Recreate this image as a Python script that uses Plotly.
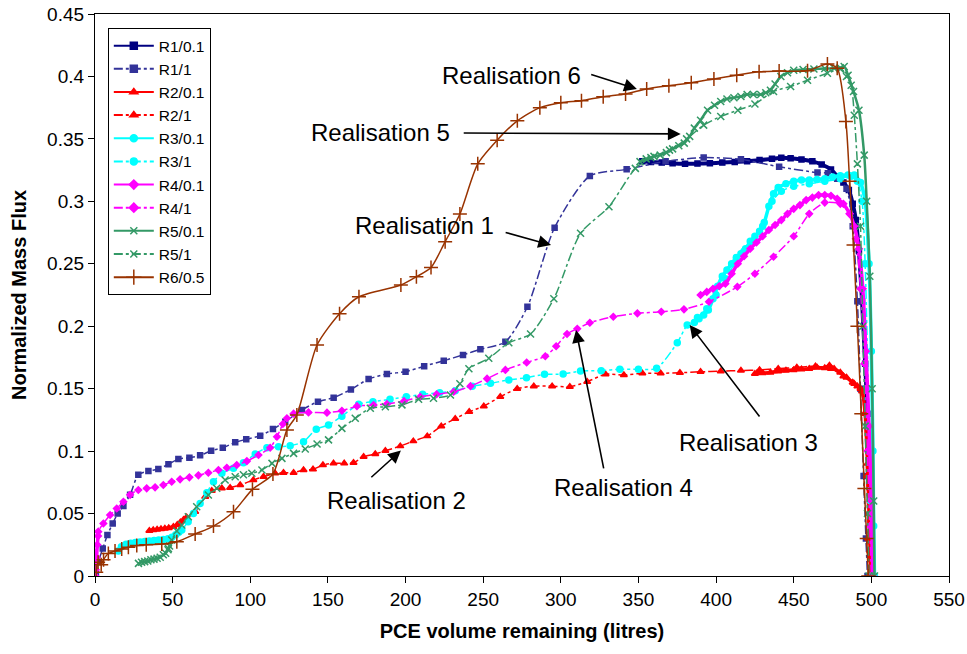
import plotly.graph_objects as go

# ---------------- data ----------------
r1_01_x = [352.5, 358, 365, 372, 380, 388, 396, 404, 412, 420, 428, 436, 442, 448, 455, 462, 468, 474, 478, 482, 485.5, 488, 490, 492, 494, 496, 497.5, 499, 500, 500.5]
r1_01_y = [0.332, 0.3315, 0.331, 0.3305, 0.330, 0.3302, 0.3305, 0.331, 0.3315, 0.332, 0.333, 0.334, 0.3348, 0.3345, 0.3335, 0.332, 0.3295, 0.3255, 0.32, 0.315, 0.309, 0.298, 0.285, 0.26, 0.22, 0.17, 0.13, 0.09, 0.04, 0.0]

r1_1_x = [0, 0.6, 2.1, 5, 8, 11.4, 14.6, 18.3, 22.6, 27.9, 34.4, 40.8, 47.3, 53.7, 60.8, 67.7, 74.8, 82.3, 90.3, 97.4, 106.4, 114.6, 122.5, 133.3, 143.6, 153.7, 164.8, 176.2, 188, 200, 212, 224.6, 237, 248.2, 264.3, 278.5, 296, 318.7, 342.4, 367.5, 392, 416, 440.6, 465.3, 472, 478, 484, 488, 491, 493, 495, 496.5, 497.5]
r1_1_y = [0, 0.002, 0.011, 0.022, 0.0328, 0.042, 0.050, 0.056, 0.065, 0.081, 0.084, 0.0857, 0.0894, 0.0937, 0.0947, 0.0966, 0.1003, 0.1027, 0.107, 0.1095, 0.1123, 0.1177, 0.1236, 0.133, 0.1396, 0.1428, 0.1494, 0.1577, 0.1617, 0.1636, 0.168, 0.1724, 0.177, 0.1815, 0.1876, 0.2156, 0.2789, 0.3203, 0.3256, 0.332, 0.335, 0.3336, 0.3277, 0.323, 0.3225, 0.318, 0.31, 0.28, 0.22, 0.15, 0.08, 0.03, 0]

r2_01_x = [35, 37.5, 40, 42.5, 45, 47.5, 50.5, 53, 55, 57, 59, None,
           425, 430, 435, 440, 445, 450, 455, 460, 465, 470, 473, 476, 480, 484, 488, 491, 494, 496, 497.5, 498.5, 499.2, 499.8]
r2_01_y = [0.0363, 0.0368, 0.0372, 0.0376, 0.038, 0.0385, 0.0395, 0.041, 0.043, 0.045, 0.047, None,
           0.162, 0.1625, 0.163, 0.164, 0.1645, 0.165, 0.1655, 0.166, 0.167, 0.1665, 0.1685, 0.166, 0.163, 0.159, 0.155, 0.152, 0.148, 0.13, 0.09, 0.05, 0.02, 0]

r2_1_x = [59.1, 64.5, 71, 75.2, 81.7, 87, 93.5, 102, 108.5, 116, 121.4, 127.9, 134.3, 140.4, 146.8, 153.6, 160.5, 166.5, 173, 180.5, 187, 196.6, 205, 214, 223, 232, 241, 250.4, 261, 271.9, 282.6, 294.4, 305.8, 317, 328.8, 340.6, 352.5, 364.3, 376.7, 390, 403, 416, 428, 440, 452, 464, 474, 482, 489, 493, 495.5, 497, 498, 498.6]
r2_1_y = [0.046, 0.0515, 0.0635, 0.0683, 0.0702, 0.0707, 0.0729, 0.0769, 0.0795, 0.0822, 0.0827, 0.0827, 0.0849, 0.0854, 0.0889, 0.0902, 0.0902, 0.0907, 0.0955, 0.0977, 0.1003, 0.104, 0.108, 0.112, 0.12, 0.126, 0.1315, 0.136, 0.1435, 0.150, 0.152, 0.152, 0.1516, 0.1556, 0.1615, 0.161, 0.1623, 0.1623, 0.1628, 0.1635, 0.164, 0.1645, 0.165, 0.166, 0.167, 0.168, 0.166, 0.16, 0.154, 0.15, 0.13, 0.08, 0.03, 0]

r3_01_x = [15, 17, 20, 23, 26, 29, 32, 35, 38, 41, 44, 47, 49.5, 52, 54, None,
           386, 389, 392, 395, 398, 401, 404, 407, 410, 413, 416, 419, 422, 425, 428, 431, 434, 437, 440, 445, 450, 455, 460, 465, 470, 475, 480, 485, 489, 493, 496, 498.5, 500, 501, 501.5, 502]
r3_01_y = [0.020, 0.0235, 0.0255, 0.0262, 0.0268, 0.0272, 0.0276, 0.028, 0.0284, 0.0288, 0.0292, 0.0298, 0.031, 0.033, 0.035, None,
           0.203, 0.206, 0.209, 0.213, 0.222, 0.232, 0.24, 0.245, 0.25, 0.255, 0.258, 0.262, 0.268, 0.272, 0.276, 0.283, 0.296, 0.306, 0.311, 0.314, 0.316, 0.317, 0.317, 0.3175, 0.318, 0.3195, 0.3205, 0.321, 0.321, 0.315, 0.30, 0.25, 0.18, 0.10, 0.04, 0]

r3_1_x = [55.9, 60, 63.4, 67.7, 72, 76.3, 81.7, 89.2, 95.6, 103.2, 110.7, 118.2, 125.7, 134.3, 142.5, 150.4, 159, 169.8, 179, 190, 200.5, 211, 222, 232, 243, 254.7, 266.5, 277.9, 289.5, 301.5, 312.7, 326, 338, 350, 361.7, 375, 381.4, 388, 394, 400, 406, 412, 418, 424, 430, 436, 442, 450, 460, 470, 480, 487, 491, 494, 496, 498, 499.5, 500.5]
r3_1_y = [0.0368, 0.0435, 0.050, 0.058, 0.0667, 0.0755, 0.0822, 0.0862, 0.0907, 0.0977, 0.1027, 0.1035, 0.1043, 0.1075, 0.1175, 0.121, 0.128, 0.1375, 0.1396, 0.1415, 0.1435, 0.1455, 0.1468, 0.1484, 0.152, 0.1543, 0.157, 0.1588, 0.1615, 0.1617, 0.1641, 0.1644, 0.1655, 0.1655, 0.1663, 0.1868, 0.201, 0.207, 0.214, 0.225, 0.238, 0.25, 0.26, 0.268, 0.28, 0.30, 0.308, 0.312, 0.314, 0.316, 0.318, 0.32, 0.316, 0.30, 0.25, 0.15, 0.06, 0]

r4_01_x = [0, 0.5, 1, 1.5, 2, None,
           390, 394, 398, 402, 406, 410, 414, 418, 422, 426, 430, 434, 438, 442, 446, 450, 454, 458, 462, 466, 470, 474, 478, 482, 486, 489, 492, 494.5, 496.5, 498.5, 500, 501]
r4_01_y = [0.0, 0.005, 0.015, 0.025, 0.032, None,
           0.225, 0.2275, 0.23, 0.232, 0.234, 0.242, 0.25, 0.256, 0.262, 0.267, 0.272, 0.277, 0.281, 0.285, 0.29, 0.294, 0.297, 0.301, 0.303, 0.305, 0.305, 0.3045, 0.302, 0.298, 0.29, 0.28, 0.262, 0.23, 0.18, 0.12, 0.06, 0]

r4_1_x = [0, 2.1, 5.4, 9.7, 14, 18.3, 22.6, 27.9, 33.3, 38.7, 44, 49.4, 54.8, 60.8, 66.6, 73, 79.5, 84.9, 91.3, 97.8, 105.3, 112.8, 117.2, 121, 123.6, 127.9, 137.5, 149.4, 159, 168.7, 179.4, 188, 199, 209.5, 220, 231, 241.8, 252.5, 264.3, 278, 290, 297, 304, 310.6, 318.7, 333.8, 349.3, 364.7, 379.3, 395.4, 413.7, 425, 437, 450, 460, 470, 480, 486, 490, 493, 495.5, 497.5, 499, 500]
r4_1_y = [0, 0.0355, 0.042, 0.0488, 0.054, 0.0595, 0.065, 0.0689, 0.0702, 0.071, 0.0729, 0.0755, 0.0774, 0.079, 0.0806, 0.0827, 0.0849, 0.0867, 0.0889, 0.092, 0.0969, 0.1027, 0.1115, 0.1217, 0.1263, 0.130, 0.131, 0.1308, 0.1323, 0.136, 0.1369, 0.1377, 0.14, 0.1435, 0.1455, 0.1475, 0.152, 0.158, 0.165, 0.171, 0.176, 0.184, 0.1938, 0.198, 0.2028, 0.2076, 0.2103, 0.2116, 0.2135, 0.2196, 0.2316, 0.242, 0.2556, 0.272, 0.29, 0.299, 0.298, 0.29, 0.27, 0.23, 0.17, 0.1, 0.04, 0]

r5_01_x = [28, 30, 32, 34, 36, 38, 40, 42, 44, 45.5, 47, 48, None,
           351, 355, 360, 364, 368, 372, 376, 379.5, 383, 386, 390, 394.5, 399, 403, 407, 411.5, 416, 420, 424, 428.7, 432, 435, 438, 441.7, 446, 450, 456, 463, 470, 476, 480, 482.5, 485, 488.5, 492, 495.4, 497, 499, 500.5, 501.5, 502]
r5_01_y = [0.0101, 0.011, 0.0115, 0.012, 0.013, 0.0135, 0.0142, 0.015, 0.017, 0.0182, 0.021, 0.024, None,
           0.3318, 0.334, 0.336, 0.337, 0.339, 0.342, 0.3445, 0.3466, 0.352, 0.3586, 0.365, 0.373, 0.377, 0.38, 0.382, 0.383, 0.384, 0.3855, 0.3855, 0.3855, 0.387, 0.389, 0.394, 0.40, 0.403, 0.405, 0.4055, 0.406, 0.4063, 0.4066, 0.407, 0.408, 0.401, 0.388, 0.373, 0.337, 0.30, 0.24, 0.15, 0.06, 0]

r5_1_x = [47.3, 49.4, 52.7, 55.9, 60.1, 65.5, 73, 78.4, 83.8, 90.3, 95.6, 101, 107.5, 114, 120.4, 127.9, 135.4, 143, 150.4, 159, 167.6, 177.3, 187, 197.7, 208.4, 218, 228.9, 235, 240.8, 253.6, 266.5, 280.5, 295.5, 312.7, 331, 348, 358, 370, 381, 392, 403, 414, 425, 437, 448, 458.9, 471.7, 480, 484, 487, 489, 491, 493, 494.5, 496, 497.5, 498.5]
r5_1_y = [0.022, 0.0288, 0.036, 0.0408, 0.0475, 0.0555, 0.0648, 0.0702, 0.0769, 0.0795, 0.081, 0.0822, 0.0849, 0.0902, 0.0942, 0.0982, 0.1017, 0.1057, 0.109, 0.1182, 0.1263, 0.1343, 0.1355, 0.137, 0.1415, 0.1423, 0.145, 0.154, 0.166, 0.1743, 0.1868, 0.1938, 0.222, 0.2744, 0.2957, 0.3264, 0.335, 0.341, 0.35, 0.361, 0.368, 0.373, 0.378, 0.388, 0.392, 0.397, 0.4025, 0.406, 0.40, 0.393, 0.369, 0.33, 0.28, 0.2, 0.12, 0.05, 0]

r6_x = [0.8, 2, 4, 5.5, 8.6, 12.9, 17.2, 21.5, 26.9, 33, 43, 52.7, 64.5, 76.3, 89.2, 101.4, 114.6, 123.6, 130, 143, 157.5, 170, 197, 207, 216.4, 225.5, 235, 246.5, 259, 272, 286.5, 300, 313.3, 327.3, 341.7, 355.3, 369.6, 384, 398.6, 413.3, 427.7, 440.6, 458.9, 471.7, 478, 483.6, 486, 488.5, 491, 493.5, 495.5, 497, 498]
r6_y = [0.003, 0.011, 0.009, 0.013, 0.018, 0.020, 0.0216, 0.023, 0.0245, 0.025, 0.0256, 0.0275, 0.0336, 0.040, 0.0515, 0.0694, 0.0817, 0.117, 0.129, 0.185, 0.210, 0.2236, 0.233, 0.2396, 0.247, 0.2677, 0.2898, 0.330, 0.349, 0.3645, 0.375, 0.379, 0.3806, 0.3838, 0.386, 0.390, 0.3926, 0.395, 0.398, 0.401, 0.4038, 0.4043, 0.4046, 0.410, 0.4065, 0.364, 0.316, 0.265, 0.2, 0.13, 0.07, 0.03, 0]

x_ticks = [0, 50, 100, 150, 200, 250, 300, 350, 400, 450, 500, 550]
y_ticks = [0, 0.05, 0.1, 0.15, 0.2, 0.25, 0.3, 0.35, 0.4, 0.45]

labels = ["Realisation 6", "Realisation 5", "Realisation 1", "Realisation 2", "Realisation 4", "Realisation 3"]
label_x = [268, 184, 212.2, 194, 340.6, 421]
label_y = [0.401, 0.355, 0.281, 0.0608, 0.0705, 0.107]
arrow_tail_x = [318.6, 236.5, 263.5, 177, 327.8, 428.7]
arrow_tail_y = [0.402, 0.3547, 0.2754, 0.078, 0.085, 0.1265]
arrow_tip_x = [349, 377.2, 293.7, 197, 309.8, 383]
arrow_tip_y = [0.390, 0.354, 0.265, 0.1005, 0.197, 0.201]

# ---------------- styles ----------------
series = [
    ("R1/0.1", r1_01_x, r1_01_y, "#000080", "solid", "square", 5, 4),
    ("R1/1", r1_1_x, r1_1_y, "#333399", "dashdot", "square", 5, 1.5),
    ("R2/0.1", r2_01_x, r2_01_y, "#FF0000", "solid", "triangle-up", 6, 3.5),
    ("R2/1", r2_1_x, r2_1_y, "#FF0000", "dashdot", "triangle-up", 6, 1.5),
    ("R3/0.1", r3_01_x, r3_01_y, "#00FFFF", "solid", "circle", 6, 3.5),
    ("R3/1", r3_1_x, r3_1_y, "#00FFFF", "dashdot", "circle", 6, 1.5),
    ("R4/0.1", r4_01_x, r4_01_y, "#FF00FF", "solid", "diamond", 5, 3.5),
    ("R4/1", r4_1_x, r4_1_y, "#FF00FF", "dashdot", "diamond", 5, 1.5),
    ("R5/0.1", r5_01_x, r5_01_y, "#339966", "solid", "x-thin", 7, 2.5),
    ("R5/1", r5_1_x, r5_1_y, "#339966", "dashdot", "x-thin", 7, 1.5),
    ("R6/0.5", r6_x, r6_y, "#993300", "solid", "cross-thin", 10, 1.5),
]

fig = go.Figure()
for name, xs, ys, col, dash, sym, msize, lw in series:
    fig.add_trace(go.Scatter(
        x=xs, y=ys, mode="lines+markers", name=name, showlegend=False,
        line=dict(color=col, dash=dash, width=lw, shape="spline", smoothing=0.7),
        marker=dict(symbol=sym, size=msize, color=col, line=dict(color=col, width=1.5)),
        connectgaps=False, legendgroup=name,
    ))
for name, xs, ys, col, dash, sym, msize, lw in series:
    fig.add_trace(go.Scatter(
        x=[None], y=[None], mode="lines+markers", name=name, legendgroup=name,
        line=dict(color=col, dash=dash, width=2),
        marker=dict(symbol=sym, size=7 if sym != "cross-thin" else 11, color=col,
                    line=dict(color=col, width=1.5)),
    ))

annotations = []
for t, lx, ly in zip(labels, label_x, label_y):
    annotations.append(dict(x=lx, y=ly, xref="x", yref="y", text=t, showarrow=False,
                            font=dict(family="Arial, Liberation Sans", size=24, color="black")))
for tx, ty, hx, hy in zip(arrow_tail_x, arrow_tail_y, arrow_tip_x, arrow_tip_y):
    annotations.append(dict(x=hx, y=hy, ax=tx, ay=ty, xref="x", yref="y", axref="x", ayref="y",
                            text="", showarrow=True, arrowhead=2, arrowsize=1.6, arrowwidth=1.6,
                            arrowcolor="black"))

fig.update_layout(
    width=967, height=654,
    margin=dict(l=95, r=18, t=14, b=78),
    paper_bgcolor="white", plot_bgcolor="white",
    font=dict(family="Arial, Liberation Sans", color="black"),
    legend=dict(x=0.015, y=0.975, xanchor="left", yanchor="top",
                bgcolor="white", bordercolor="black", borderwidth=1,
                font=dict(size=15.5, family="Arial, Liberation Sans"),
                itemwidth=40, tracegroupgap=0),
    annotations=annotations,
    showlegend=True,
)
fig.update_xaxes(range=[0, 550], tickvals=x_ticks, ticks="outside", ticklen=6, tickcolor="black",
                 showline=True, linecolor="black", linewidth=1.2, mirror=True, showgrid=False,
                 zeroline=False, tickfont=dict(size=19), automargin=False,
                 title=dict(text="<b>PCE volume remaining (litres)</b>", font=dict(size=20)))
fig.update_yaxes(range=[0, 0.45], tickvals=y_ticks, ticks="outside", ticklen=6, tickcolor="black",
                 showline=True, linecolor="black", linewidth=1.2, mirror=True, showgrid=False,
                 zeroline=False, tickfont=dict(size=19), automargin=False,
                 title=dict(text="<b>Normalized Mass Flux</b>", font=dict(size=20)))

fig.write_html("out.html")
